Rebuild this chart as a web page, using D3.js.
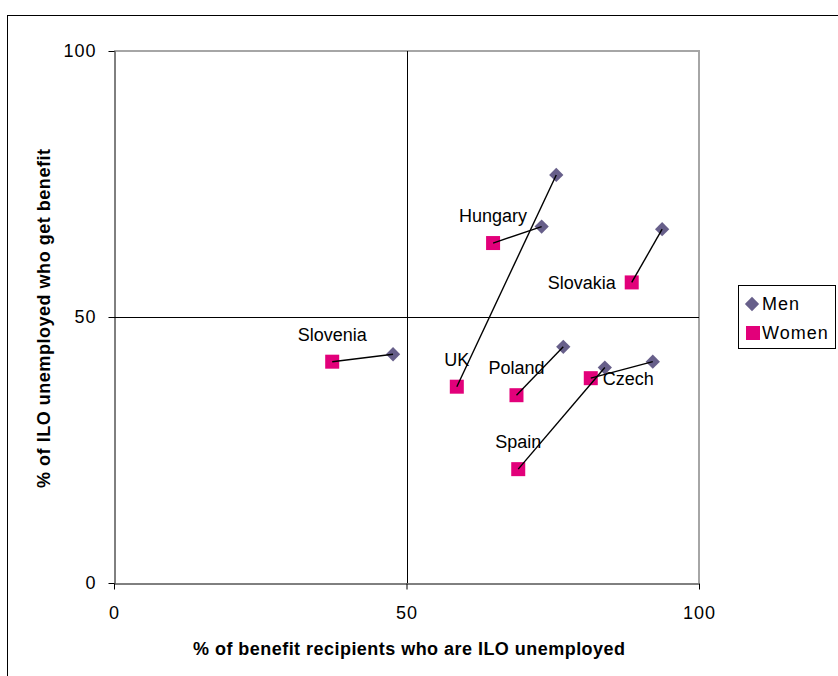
<!DOCTYPE html>
<html>
<head>
<meta charset="utf-8">
<script src="https://cdn.jsdelivr.net/npm/d3@7"></script>
<style>
  html, body { margin: 0; padding: 0; background: #fff; }
  svg { display: block; font-family: "Liberation Sans", Arial, sans-serif; }
</style>
</head>
<body>
<svg id="chart" width="838" height="676"></svg>
<script>
// Benefit coverage vs. ILO unemployment, by country and sex
const countries = ["Hungary", "UK", "Slovakia", "Slovenia", "Poland", "Czech", "Spain"];
const menX   = [73.1, 75.6, 93.7, 47.7, 76.8, 92.1, 83.9];
const menY   = [67.0, 76.7, 66.5, 43.0, 44.4, 41.6, 40.5];
const womenX = [64.8, 58.6, 88.5, 37.3, 68.8, 81.5, 69.1];
const womenY = [63.9, 36.9, 56.5, 41.6, 35.3, 38.5, 21.4];
const labelSide = ["above", "above", "left", "above", "above", "right", "above"];
const tickValues = [0, 50, 100];
const seriesNames = ["Men", "Women"];

const menColor = "#675f8a";
const womenColor = "#e2007a";

const svg = d3.select("#chart");
const plot = { left: 114, right: 699, top: 51, bottom: 583 };

const x = d3.scaleLinear().domain([0, 100]).range([plot.left, plot.right]);
const y = d3.scaleLinear().domain([0, 100]).range([plot.bottom, plot.top]);

// outer chart frame
svg.append("rect")
  .attr("x", 7.5).attr("y", 15.5)
  .attr("width", 840).attr("height", 670)
  .attr("fill", "none").attr("stroke", "#000").attr("stroke-width", 1);

// plot area border (top/right in grey)
svg.append("path")
  .attr("d", `M${plot.left},${plot.top}H${plot.right}V${plot.bottom}`)
  .attr("fill", "none").attr("stroke", "#a6a6a6").attr("stroke-width", 2);

// gridlines at 50
const grid = svg.append("g").attr("stroke", "#000").attr("stroke-width", 1);
grid.append("line")
  .attr("x1", Math.round(x(50)) + 0.5).attr("x2", Math.round(x(50)) + 0.5)
  .attr("y1", plot.top).attr("y2", plot.bottom);
grid.append("line")
  .attr("x1", plot.left).attr("x2", plot.right)
  .attr("y1", Math.round(y(50)) + 0.5).attr("y2", Math.round(y(50)) + 0.5);

// axes
const xAxis = d3.axisBottom(x).tickValues(tickValues).tickSize(6).tickSizeOuter(0).tickPadding(17);
const yAxis = d3.axisLeft(y).tickValues(tickValues).tickSize(6).tickSizeOuter(0).tickPadding(12);

const gx = svg.append("g").attr("transform", `translate(0,${plot.bottom + 0.5})`).call(xAxis);
const gy = svg.append("g").attr("transform", `translate(${plot.left + 0.5},0)`).call(yAxis);
[gx, gy].forEach(g => {
  g.select(".domain").attr("stroke", "#000");
  g.selectAll(".tick line").attr("stroke", "#000");
  g.selectAll(".tick text")
    .attr("fill", "#000")
    .style("font-size", "18px")
    .style("letter-spacing", "1px")
    .style("font-family", "Liberation Sans, Arial, sans-serif");
});
gx.selectAll(".tick text").attr("dy", "0.71em");

// axis titles
svg.append("text")
  .attr("x", 409).attr("y", 655)
  .attr("text-anchor", "middle")
  .attr("font-size", 18).attr("font-weight", "bold")
  .attr("textLength", 432).attr("lengthAdjust", "spacing")
  .text("% of benefit recipients who are ILO unemployed");

svg.append("text")
  .attr("transform", `translate(50,${318.5}) rotate(-90)`)
  .attr("text-anchor", "middle")
  .attr("font-size", 18).attr("font-weight", "bold")
  .attr("textLength", 339).attr("lengthAdjust", "spacing")
  .text("% of ILO unemployed who get benefit");

const rows = countries.map((c, i) => ({
  name: c, mx: menX[i], my: menY[i], wx: womenX[i], wy: womenY[i], side: labelSide[i]
}));

// country labels next to the women's point
svg.append("g").selectAll("text").data(rows).join("text")
  .attr("font-size", 18)
  .attr("fill", "#000")
  .attr("text-anchor", d => d.side === "above" ? "middle" : d.side === "left" ? "end" : "start")
  .attr("x", d => d.side === "above" ? x(d.wx) : d.side === "left" ? x(d.wx) - 16 : x(d.wx) + 12)
  .attr("y", d => d.side === "above" ? y(d.wy) - 21 : y(d.wy) + 7)
  .text(d => d.name);

// markers
const diamond = d3.symbol().type(d3.symbolDiamond2).size(130);
svg.append("g").selectAll("path").data(rows).join("path")
  .attr("d", diamond)
  .attr("transform", d => `translate(${x(d.mx)},${y(d.my)})`)
  .attr("fill", menColor);

const sq = 14;
svg.append("g").selectAll("rect").data(rows).join("rect")
  .attr("x", d => x(d.wx) - sq / 2).attr("y", d => y(d.wy) - sq / 2)
  .attr("width", sq).attr("height", sq)
  .attr("fill", womenColor);

// connectors between men and women for each country
svg.append("g").selectAll("line").data(rows).join("line")
  .attr("x1", d => x(d.mx)).attr("y1", d => y(d.my))
  .attr("x2", d => x(d.wx)).attr("y2", d => y(d.wy))
  .attr("stroke", "#000").attr("stroke-width", 1.4);

// legend
const legend = svg.append("g");
legend.append("rect")
  .attr("x", 738.5).attr("y", 285.5).attr("width", 97).attr("height", 63)
  .attr("fill", "#fff").attr("stroke", "#000").attr("stroke-width", 1);
const legItems = legend.selectAll("g.item").data(seriesNames).join("g")
  .attr("class", "item")
  .attr("transform", (d, i) => `translate(0,${304 + i * 29})`);
legItems.filter((d, i) => i === 0).append("path")
  .attr("d", diamond).attr("transform", "translate(752,0)").attr("fill", menColor);
legItems.filter((d, i) => i === 1).append("rect")
  .attr("x", 746).attr("y", -7).attr("width", sq).attr("height", sq).attr("fill", womenColor);
legItems.append("text")
  .attr("x", 762).attr("y", 0).attr("dy", "0.36em")
  .attr("font-size", 18).style("letter-spacing", "1px")
  .text(d => d);
</script>
</body>
</html>
